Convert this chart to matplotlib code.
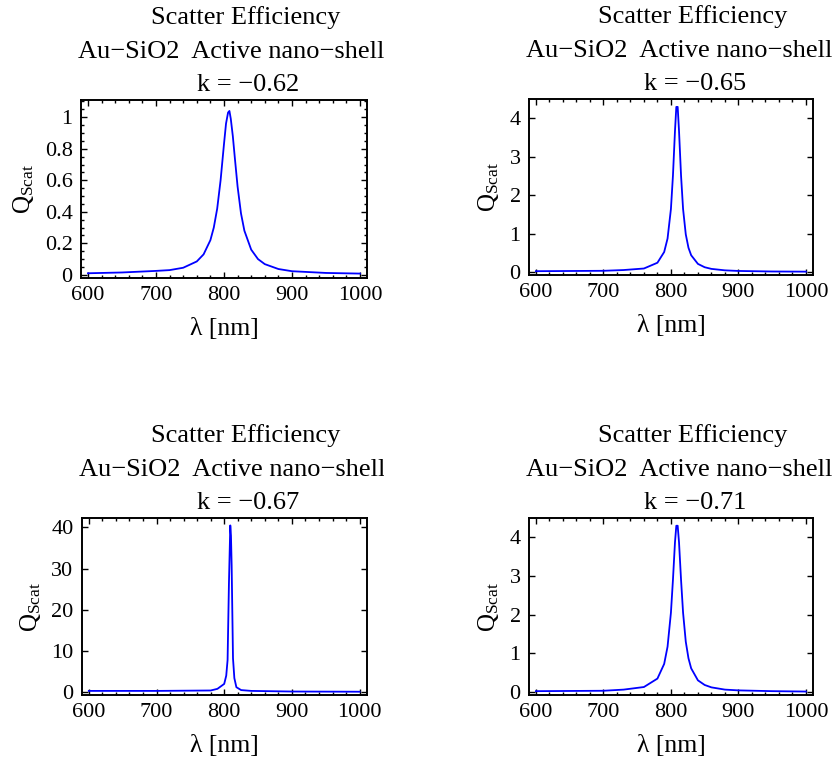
import matplotlib
matplotlib.use("Agg")
import matplotlib.pyplot as plt
from matplotlib.ticker import MultipleLocator, FormatStrFormatter
from matplotlib.transforms import Bbox, TransformedBbox

plt.rcParams['font.family'] = ['Liberation Serif', 'DejaVu Serif']
plt.rcParams['mathtext.fontset'] = 'custom'
plt.rcParams['mathtext.rm'] = 'Liberation Serif'
plt.rcParams['mathtext.it'] = 'Liberation Serif:italic'

# values (wavelength in nm, scatter efficiency)
wl_1 = [600, 650, 700, 720, 740, 760, 770, 780, 785, 790, 795, 800, 803, 806, 808,
        810, 813, 816, 820, 825, 830, 840, 850, 860, 880, 900, 950, 1000]
q_1 = [0.01, 0.015, 0.025, 0.03, 0.045, 0.085, 0.13, 0.22, 0.30, 0.42, 0.60, 0.83, 0.96,
       1.03, 1.04, 0.99, 0.88, 0.74, 0.56, 0.39, 0.28, 0.16, 0.10, 0.068, 0.037, 0.023,
       0.012, 0.008]

wl_2 = [600, 700, 730, 760, 780, 790, 795, 800, 803, 806, 808, 810, 812, 815, 818,
        822, 826, 830, 840, 850, 860, 880, 900, 950, 1000]
q_2 = [0.02, 0.03, 0.05, 0.09, 0.24, 0.52, 0.87, 1.64, 2.51, 3.67, 4.3, 4.3, 3.67, 2.51,
       1.64, 0.98, 0.63, 0.435, 0.21, 0.123, 0.08, 0.042, 0.026, 0.012, 0.008]

wl_3 = [600, 700, 780, 790, 800, 803, 805, 807, 809, 810, 811, 813, 815, 818, 825,
        840, 900, 1000]
q_3 = [0.3, 0.3, 0.4, 0.8, 2.0, 4.0, 7.8, 26.4, 40.5, 38.0, 30.8, 8.2, 3.4, 1.2, 0.5,
       0.3, 0.15, 0.1]

wl_4 = [600, 700, 730, 760, 780, 790, 795, 800, 803, 806, 808, 810, 812, 815, 818,
        822, 826, 830, 840, 850, 860, 880, 900, 950, 1000]
q_4 = [0.02, 0.03, 0.06, 0.127, 0.345, 0.725, 1.17, 2.05, 2.9, 3.87, 4.3, 4.3, 3.87, 2.9,
       2.05, 1.30, 0.87, 0.61, 0.30, 0.18, 0.118, 0.06, 0.04, 0.02, 0.01]

k_values = ['\u22120.62', '\u22120.65', '\u22120.67', '\u22120.71']
y_limits = [(-0.02, 1.11), (-0.08, 4.5), (-0.7, 42.3), (-0.08, 4.5)]
y_major = [0.2, 1, 10, 1]
y_minor = [0.05, None, None, None]

fig = plt.figure(figsize=(8.35, 7.61), dpi=100)
positions = [
    [0.097, 0.6347, 0.3425, 0.234],
    [0.6335, 0.6386, 0.340, 0.231],
    [0.098, 0.0867, 0.341, 0.2326],
    [0.6335, 0.0867, 0.340, 0.2326],
]
# right edge (figure fraction) where each panel's graphic ends
clip_right = [384 / 835, 1.0, 384 / 835, 1.0]
series = [(wl_1, q_1), (wl_2, q_2), (wl_3, q_3), (wl_4, q_4)]

for i, (x, y) in enumerate(series):
    ax = fig.add_axes(positions[i])
    ax.plot(x, y, color='#0000ff', lw=1.3)
    ax.set_xlim(589.7, 1010.3)
    ax.set_ylim(*y_limits[i])
    ax.xaxis.set_major_locator(MultipleLocator(100))
    ax.xaxis.set_minor_locator(MultipleLocator(20))
    ax.yaxis.set_major_locator(MultipleLocator(y_major[i]))
    ax.yaxis.set_major_formatter(FormatStrFormatter('%g'))
    if y_minor[i]:
        ax.yaxis.set_minor_locator(MultipleLocator(y_minor[i]))
    ax.tick_params(which='both', direction='in', top=True, right=True,
                   labelsize=16, width=1.0)
    ax.tick_params(which='major', length=4, pad=6)
    ax.tick_params(which='minor', length=2)
    for s in ax.spines.values():
        s.set_linewidth(1.4)
    ax.set_xlabel('\u03bb [nm]', fontsize=18.5, labelpad=9)
    ax.set_ylabel(r'$\mathrm{Q}_{\mathrm{Scat}}$', fontsize=18, labelpad=6)

    # three title lines, as in the reference
    ax.annotate('Scatter Efficiency', xy=(0.577, 1), xycoords='axes fraction',
                xytext=(0, 76), textcoords='offset pixels', ha='center',
                va='baseline', fontsize=19, annotation_clip=False)
    t = ax.annotate('Au\u2212SiO2  Active nano\u2212shell', xy=(0, 1),
                    xycoords='axes fraction', xytext=(-3, 42),
                    textcoords='offset pixels', ha='left', va='baseline',
                    fontsize=19, annotation_clip=False)
    t.set_clip_box(TransformedBbox(Bbox([[0, 0], [clip_right[i], 1]]), fig.transFigure))
    t.set_clip_on(True)
    ax.annotate('k = ' + k_values[i], xy=(0.577, 1), xycoords='axes fraction',
                xytext=(2, 9), textcoords='offset pixels', ha='center',
                va='baseline', fontsize=19, annotation_clip=False)

fig.savefig('out.png', dpi=100, facecolor='white')
